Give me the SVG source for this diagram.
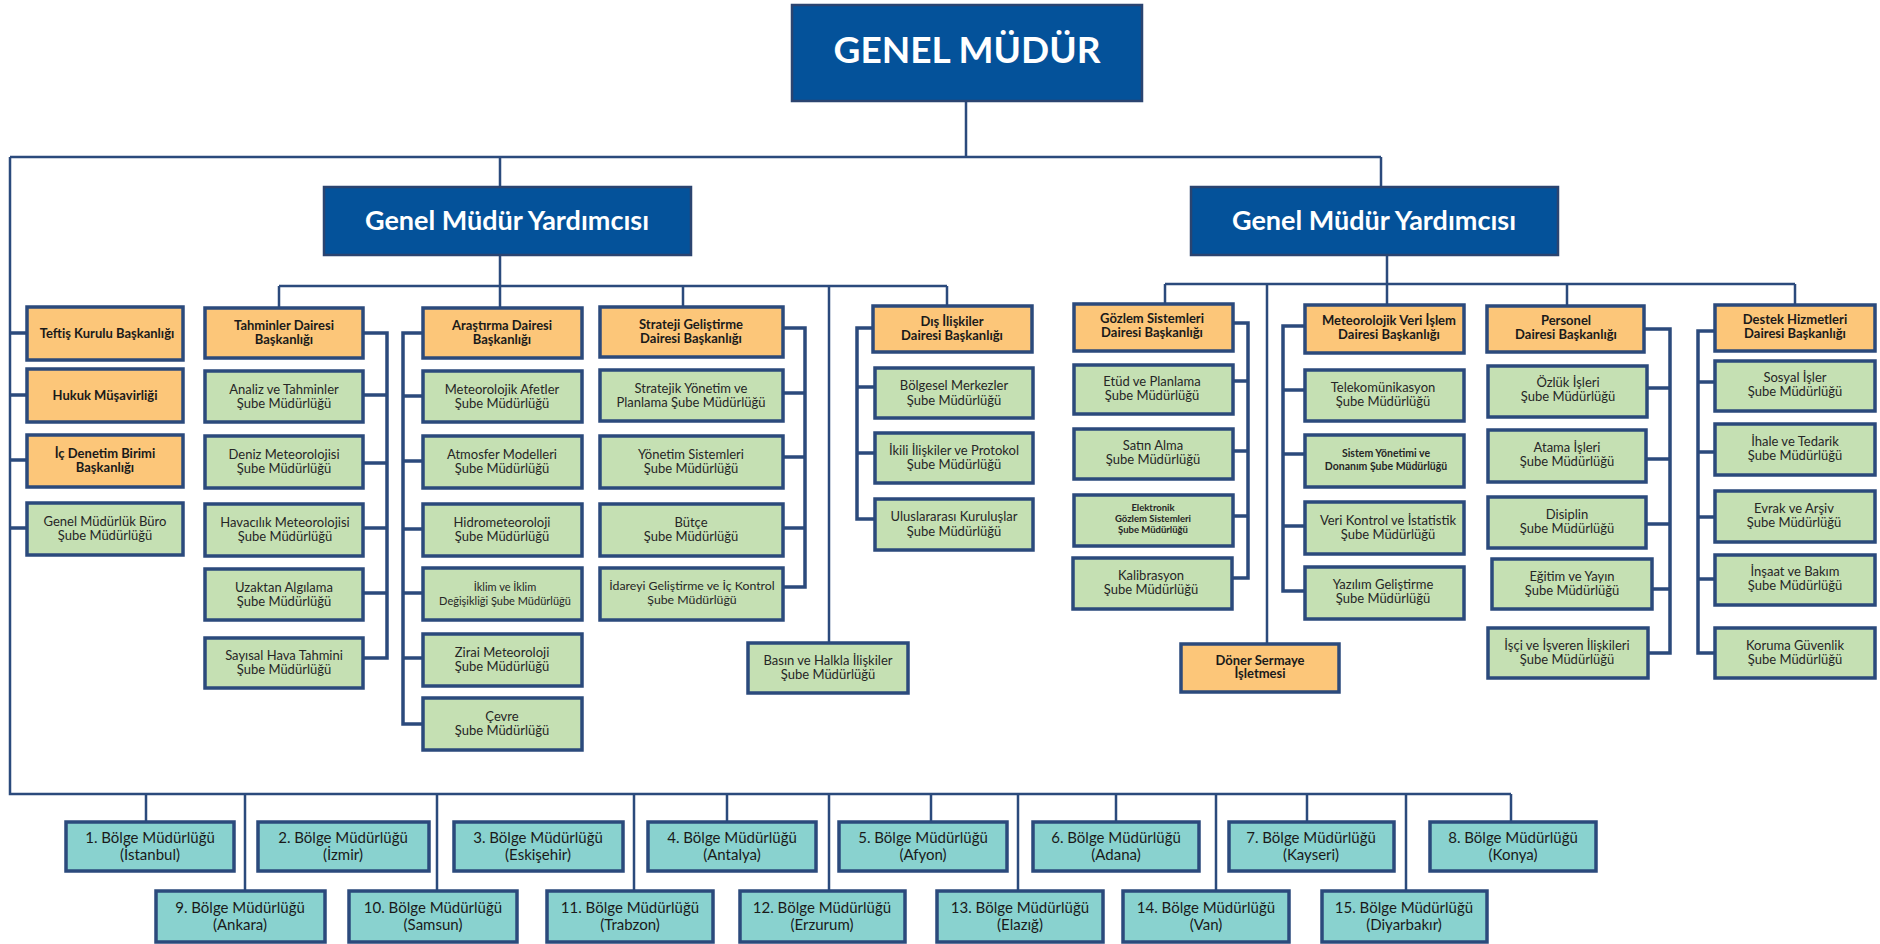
<svg xmlns="http://www.w3.org/2000/svg" width="1880" height="944" viewBox="0 0 1880 944">
<style>
.bg{fill:#ffffff}
.b{fill:#04529a;stroke:#2b4470;stroke-width:2.5}
.o{fill:#fcc679;stroke:#2b4a7c;stroke-width:3.5}
.g{fill:#c5e0b3;stroke:#2b4a7c;stroke-width:3.5}
.t{fill:#89d2cf;stroke:#2b4a7c;stroke-width:3.5}
text{font-family:Lato,"Open Sans","Liberation Sans",sans-serif;text-anchor:middle;fill:#262626}
.tw{fill:#ffffff;font-weight:bold}
.tb{font-weight:bold;font-size:13px;fill:#1a1a1a}
.tn{font-size:13px}
.ts{font-size:11px;font-weight:bold}
.tsn{font-size:11px}
.tx{font-size:9.5px;font-weight:bold}
.tr{font-size:15px;fill:#1a1a1a}
.c{fill:none;stroke:#2b4a7c;stroke-width:3.5;stroke-linejoin:miter}
.m{fill:none;stroke:#2b4a7c;stroke-width:2.5}
</style>
<rect class="bg" x="0" y="0" width="1880" height="944"/>

<g id="connectors">
  <path class="m" d="M966 101V157M10 157H1381M500 157V187M1381 157V187"/>
  <path class="m" d="M10 157V794H1511"/>
  <path class="c" d="M10 333H27M10 395H27M10 460H27M10 528H27"/>
  <path class="m" d="M500 255V286M279 286H947M279 286V308M500 286V308M683 286V307M829 286V643M947 286V306"/>
  <path class="m" d="M1387 255V284M1165 284H1795M1165 284V304M1267 284V644M1387 284V305M1567 284V306M1795 284V305"/>
  <path class="c" d="M363 333H387V658H363M363 395H387M363 463H387M363 528H387M363 593H387"/>
  <path class="c" d="M423 333H403V724H423M403 396H423M403 461H423M403 529H423M403 593H423M403 658H423"/>
  <path class="c" d="M783 328H805V587H783M783 393H805M783 457H805M783 528H805"/>
  <path class="c" d="M873 328H857V519H875M857 387H875M857 453H875"/>
  <path class="c" d="M1233 323H1248V578H1232M1233 381H1248M1233 451H1248M1233 516H1248"/>
  <path class="c" d="M1305 326H1283V591H1305M1283 390H1305M1283 454H1305M1283 526H1305"/>
  <path class="c" d="M1644 329H1670V653H1648M1647 388H1670M1646 459H1670M1646 524H1670M1652 589H1670"/>
  <path class="c" d="M1715 331H1698V653H1715M1698 382H1715M1698 452H1715M1698 517H1715M1698 579H1715"/>
  <path class="m" d="M146 794V822M245 794V891M437 794V891M634 794V891M727 794V822M829 794V891M931 794V822M1018 794V891M1116 794V822M1216 794V891M1307 794V822M1406 794V891M1511 794V822"/>
</g>

<g id="genel-mudur"><rect class="b" x="792" y="5" width="350" height="96"/><text class="tw" x="967" y="63" font-size="37">GENEL MÜDÜR</text></g>
<g id="gmy-1"><rect class="b" x="324" y="187" width="367" height="68"/><text class="tw" x="507" y="230" font-size="27">Genel Müdür Yardımcısı</text></g>
<g id="gmy-2"><rect class="b" x="1191" y="187" width="367" height="68"/><text class="tw" x="1374" y="230" font-size="27">Genel Müdür Yardımcısı</text></g>

<g id="teftis"><rect class="o" x="27" y="307" width="156" height="53"/><text class="tb" x="107" y="338">Teftiş Kurulu Başkanlığı</text></g>
<g id="hukuk"><rect class="o" x="27" y="369" width="156" height="53"/><text class="tb" x="105" y="400">Hukuk Müşavirliği</text></g>
<g id="ic-denetim"><rect class="o" x="27" y="435" width="156" height="52"/><text class="tb" x="105" y="458">İç Denetim Birimi<tspan x="105" dy="14">Başkanlığı</tspan></text></g>
<g id="buro"><rect class="g" x="27" y="503" width="156" height="52"/><text class="tn" x="105" y="526">Genel Müdürlük Büro<tspan x="105" dy="14">Şube Müdürlüğü</tspan></text></g>

<g id="tahminler"><rect class="o" x="205" y="308" width="158" height="50"/><text class="tb" x="284" y="330">Tahminler Dairesi<tspan x="284" dy="14">Başkanlığı</tspan></text></g>
<g id="analiz"><rect class="g" x="205" y="371" width="158" height="51"/><text class="tn" x="284" y="394">Analiz ve Tahminler<tspan x="284" dy="14">Şube Müdürlüğü</tspan></text></g>
<g id="deniz"><rect class="g" x="205" y="436" width="158" height="52"/><text class="tn" x="284" y="459">Deniz Meteorolojisi<tspan x="284" dy="14">Şube Müdürlüğü</tspan></text></g>
<g id="havacilik"><rect class="g" x="205" y="504" width="158" height="52"/><text class="tn" x="285" y="527">Havacılık Meteorolojisi<tspan x="285" dy="14">Şube Müdürlüğü</tspan></text></g>
<g id="uzaktan"><rect class="g" x="205" y="569" width="158" height="51"/><text class="tn" x="284" y="592">Uzaktan Algılama<tspan x="284" dy="14">Şube Müdürlüğü</tspan></text></g>
<g id="sayisal"><rect class="g" x="205" y="638" width="158" height="50"/><text class="tn" x="284" y="660">Sayısal Hava Tahmini<tspan x="284" dy="14">Şube Müdürlüğü</tspan></text></g>

<g id="arastirma"><rect class="o" x="423" y="308" width="159" height="50"/><text class="tb" x="502" y="330">Araştırma Dairesi<tspan x="502" dy="14">Başkanlığı</tspan></text></g>
<g id="afetler"><rect class="g" x="423" y="371" width="159" height="51"/><text class="tn" x="502" y="394">Meteorolojik Afetler<tspan x="502" dy="14">Şube Müdürlüğü</tspan></text></g>
<g id="atmosfer"><rect class="g" x="423" y="436" width="159" height="52"/><text class="tn" x="502" y="459">Atmosfer Modelleri<tspan x="502" dy="14">Şube Müdürlüğü</tspan></text></g>
<g id="hidro"><rect class="g" x="423" y="504" width="159" height="52"/><text class="tn" x="502" y="527">Hidrometeoroloji<tspan x="502" dy="14">Şube Müdürlüğü</tspan></text></g>
<g id="iklim"><rect class="g" x="423" y="568" width="159" height="52"/><text class="tsn" x="505" y="591">İklim ve İklim<tspan x="505" dy="14">Değişikliği Şube Müdürlüğü</tspan></text></g>
<g id="zirai"><rect class="g" x="423" y="634" width="159" height="52"/><text class="tn" x="502" y="657">Zirai Meteoroloji<tspan x="502" dy="14">Şube Müdürlüğü</tspan></text></g>
<g id="cevre"><rect class="g" x="423" y="698" width="159" height="52"/><text class="tn" x="502" y="721">Çevre<tspan x="502" dy="14">Şube Müdürlüğü</tspan></text></g>

<g id="strateji"><rect class="o" x="600" y="307" width="183" height="50"/><text class="tb" x="691" y="329">Strateji Geliştirme<tspan x="691" dy="14">Dairesi Başkanlığı</tspan></text></g>
<g id="stratejik-yonetim"><rect class="g" x="600" y="370" width="183" height="51"/><text class="tn" x="691" y="393">Stratejik Yönetim ve<tspan x="691" dy="14">Planlama Şube Müdürlüğü</tspan></text></g>
<g id="yonetim-sistemleri"><rect class="g" x="600" y="436" width="183" height="52"/><text class="tn" x="691" y="459">Yönetim Sistemleri<tspan x="691" dy="14">Şube Müdürlüğü</tspan></text></g>
<g id="butce"><rect class="g" x="600" y="504" width="183" height="52"/><text class="tn" x="691" y="527">Bütçe<tspan x="691" dy="14">Şube Müdürlüğü</tspan></text></g>
<g id="idareyi"><rect class="g" x="600" y="568" width="183" height="52"/><text class="tn" x="692" y="590" style="font-size:12.3px">İdareyi Geliştirme ve İç Kontrol<tspan x="692" dy="14">Şube Müdürlüğü</tspan></text></g>

<g id="basin"><rect class="g" x="748" y="643" width="160" height="50"/><text class="tn" x="828" y="665">Basın ve Halkla İlişkiler<tspan x="828" dy="14">Şube Müdürlüğü</tspan></text></g>

<g id="dis-iliskiler"><rect class="o" x="873" y="306" width="159" height="46"/><text class="tb" x="952" y="326">Dış İlişkiler<tspan x="952" dy="14">Dairesi Başkanlığı</tspan></text></g>
<g id="bolgesel"><rect class="g" x="875" y="368" width="158" height="50"/><text class="tn" x="954" y="390">Bölgesel Merkezler<tspan x="954" dy="15">Şube Müdürlüğü</tspan></text></g>
<g id="ikili"><rect class="g" x="875" y="433" width="158" height="50"/><text class="tn" x="954" y="455">İkili İlişkiler ve Protokol<tspan x="954" dy="14">Şube Müdürlüğü</tspan></text></g>
<g id="uluslararasi"><rect class="g" x="875" y="499" width="158" height="51"/><text class="tn" x="954" y="521">Uluslararası Kuruluşlar<tspan x="954" dy="15">Şube Müdürlüğü</tspan></text></g>

<g id="gozlem"><rect class="o" x="1074" y="304" width="159" height="47"/><text class="tb" x="1152" y="323">Gözlem Sistemleri<tspan x="1152" dy="14">Dairesi Başkanlığı</tspan></text></g>
<g id="etud"><rect class="g" x="1074" y="365" width="159" height="49"/><text class="tn" x="1152" y="386">Etüd ve Planlama<tspan x="1152" dy="14">Şube Müdürlüğü</tspan></text></g>
<g id="satin-alma"><rect class="g" x="1074" y="429" width="159" height="50"/><text class="tn" x="1153" y="450">Satın Alma<tspan x="1153" dy="14">Şube Müdürlüğü</tspan></text></g>
<g id="elektronik"><rect class="g" x="1074" y="495" width="159" height="51"/><text class="tx" x="1153" y="511">Elektronik<tspan x="1153" dy="11">Gözlem Sistemleri</tspan><tspan x="1153" dy="11">Şube Müdürlüğü</tspan></text></g>
<g id="kalibrasyon"><rect class="g" x="1073" y="558" width="159" height="51"/><text class="tn" x="1151" y="580">Kalibrasyon<tspan x="1151" dy="14">Şube Müdürlüğü</tspan></text></g>

<g id="doner"><rect class="o" x="1181" y="644" width="158" height="48"/><text class="tb" x="1260" y="665">Döner Sermaye<tspan x="1260" dy="13">İşletmesi</tspan></text></g>

<g id="veri-islem"><rect class="o" x="1305" y="305" width="159" height="48"/><text class="tb" x="1389" y="325">Meteorolojik Veri İşlem<tspan x="1389" dy="14">Dairesi Başkanlığı</tspan></text></g>
<g id="telekom"><rect class="g" x="1305" y="370" width="159" height="51"/><text class="tn" x="1383" y="392">Telekomünikasyon<tspan x="1383" dy="14">Şube Müdürlüğü</tspan></text></g>
<g id="sistem-yonetimi"><rect class="g" x="1305" y="435" width="159" height="52"/><text class="ts" x="1386" y="457" style="font-size:10.5px">Sistem Yönetimi  ve<tspan x="1386" dy="13">Donanım Şube Müdürlüğü</tspan></text></g>
<g id="veri-kontrol"><rect class="g" x="1305" y="502" width="159" height="52"/><text class="tn" x="1388" y="525">Veri Kontrol ve İstatistik<tspan x="1388" dy="14">Şube Müdürlüğü</tspan></text></g>
<g id="yazilim"><rect class="g" x="1305" y="567" width="159" height="52"/><text class="tn" x="1383" y="589">Yazılım Geliştirme<tspan x="1383" dy="14">Şube Müdürlüğü</tspan></text></g>

<g id="personel"><rect class="o" x="1487" y="306" width="157" height="46"/><text class="tb" x="1566" y="325">Personel<tspan x="1566" dy="14">Dairesi Başkanlığı</tspan></text></g>
<g id="ozluk"><rect class="g" x="1488" y="366" width="159" height="51"/><text class="tn" x="1568" y="387">Özlük İşleri<tspan x="1568" dy="14">Şube Müdürlüğü</tspan></text></g>
<g id="atama"><rect class="g" x="1488" y="430" width="158" height="52"/><text class="tn" x="1567" y="452">Atama İşleri<tspan x="1567" dy="14">Şube Müdürlüğü</tspan></text></g>
<g id="disiplin"><rect class="g" x="1488" y="497" width="158" height="51"/><text class="tn" x="1567" y="519">Disiplin<tspan x="1567" dy="14">Şube Müdürlüğü</tspan></text></g>
<g id="egitim"><rect class="g" x="1492" y="559" width="160" height="50"/><text class="tn" x="1572" y="581">Eğitim ve Yayın<tspan x="1572" dy="14">Şube Müdürlüğü</tspan></text></g>
<g id="isci"><rect class="g" x="1488" y="628" width="160" height="50"/><text class="tn" x="1567" y="650">İşçi ve İşveren İlişkileri<tspan x="1567" dy="14">Şube Müdürlüğü</tspan></text></g>

<g id="destek"><rect class="o" x="1715" y="305" width="160" height="46"/><text class="tb" x="1795" y="324">Destek Hizmetleri<tspan x="1795" dy="14">Dairesi Başkanlığı</tspan></text></g>
<g id="sosyal"><rect class="g" x="1715" y="361" width="160" height="50"/><text class="tn" x="1795" y="382">Sosyal İşler<tspan x="1795" dy="14">Şube Müdürlüğü</tspan></text></g>
<g id="ihale"><rect class="g" x="1715" y="424" width="160" height="51"/><text class="tn" x="1795" y="446">İhale ve Tedarik<tspan x="1795" dy="14">Şube Müdürlüğü</tspan></text></g>
<g id="evrak"><rect class="g" x="1715" y="491" width="160" height="51"/><text class="tn" x="1794" y="513">Evrak ve Arşiv<tspan x="1794" dy="14">Şube Müdürlüğü</tspan></text></g>
<g id="insaat"><rect class="g" x="1715" y="555" width="160" height="50"/><text class="tn" x="1795" y="576">İnşaat ve Bakım<tspan x="1795" dy="14">Şube Müdürlüğü</tspan></text></g>
<g id="koruma"><rect class="g" x="1715" y="628" width="160" height="50"/><text class="tn" x="1795" y="650">Koruma Güvenlik<tspan x="1795" dy="14">Şube Müdürlüğü</tspan></text></g>

<g id="bolge-1"><rect class="t" x="66" y="822" width="168" height="49"/><text class="tr" x="150" y="843">1. Bölge Müdürlüğü<tspan x="150" dy="17">(İstanbul)</tspan></text></g>
<g id="bolge-2"><rect class="t" x="258" y="822" width="171" height="49"/><text class="tr" x="343" y="843">2. Bölge Müdürlüğü<tspan x="343" dy="17">(İzmir)</tspan></text></g>
<g id="bolge-3"><rect class="t" x="454" y="822" width="169" height="49"/><text class="tr" x="538" y="843">3. Bölge Müdürlüğü<tspan x="538" dy="17">(Eskişehir)</tspan></text></g>
<g id="bolge-4"><rect class="t" x="648" y="822" width="168" height="49"/><text class="tr" x="732" y="843">4. Bölge Müdürlüğü<tspan x="732" dy="17">(Antalya)</tspan></text></g>
<g id="bolge-5"><rect class="t" x="839" y="822" width="168" height="49"/><text class="tr" x="923" y="843">5. Bölge Müdürlüğü<tspan x="923" dy="17">(Afyon)</tspan></text></g>
<g id="bolge-6"><rect class="t" x="1033" y="822" width="166" height="49"/><text class="tr" x="1116" y="843">6. Bölge Müdürlüğü<tspan x="1116" dy="17">(Adana)</tspan></text></g>
<g id="bolge-7"><rect class="t" x="1229" y="822" width="165" height="49"/><text class="tr" x="1311" y="843">7. Bölge Müdürlüğü<tspan x="1311" dy="17">(Kayseri)</tspan></text></g>
<g id="bolge-8"><rect class="t" x="1430" y="822" width="166" height="49"/><text class="tr" x="1513" y="843">8. Bölge Müdürlüğü<tspan x="1513" dy="17">(Konya)</tspan></text></g>
<g id="bolge-9"><rect class="t" x="156" y="891" width="169" height="51"/><text class="tr" x="240" y="913">9. Bölge Müdürlüğü<tspan x="240" dy="17">(Ankara)</tspan></text></g>
<g id="bolge-10"><rect class="t" x="349" y="891" width="168" height="51"/><text class="tr" x="433" y="913">10. Bölge Müdürlüğü<tspan x="433" dy="17">(Samsun)</tspan></text></g>
<g id="bolge-11"><rect class="t" x="547" y="891" width="166" height="51"/><text class="tr" x="630" y="913">11. Bölge Müdürlüğü<tspan x="630" dy="17">(Trabzon)</tspan></text></g>
<g id="bolge-12"><rect class="t" x="740" y="891" width="165" height="51"/><text class="tr" x="822" y="913">12. Bölge Müdürlüğü<tspan x="822" dy="17">(Erzurum)</tspan></text></g>
<g id="bolge-13"><rect class="t" x="937" y="891" width="166" height="51"/><text class="tr" x="1020" y="913">13. Bölge Müdürlüğü<tspan x="1020" dy="17">(Elazığ)</tspan></text></g>
<g id="bolge-14"><rect class="t" x="1123" y="891" width="166" height="51"/><text class="tr" x="1206" y="913">14. Bölge Müdürlüğü<tspan x="1206" dy="17">(Van)</tspan></text></g>
<g id="bolge-15"><rect class="t" x="1322" y="891" width="165" height="51"/><text class="tr" x="1404" y="913">15. Bölge Müdürlüğü<tspan x="1404" dy="17">(Diyarbakır)</tspan></text></g>
</svg>
